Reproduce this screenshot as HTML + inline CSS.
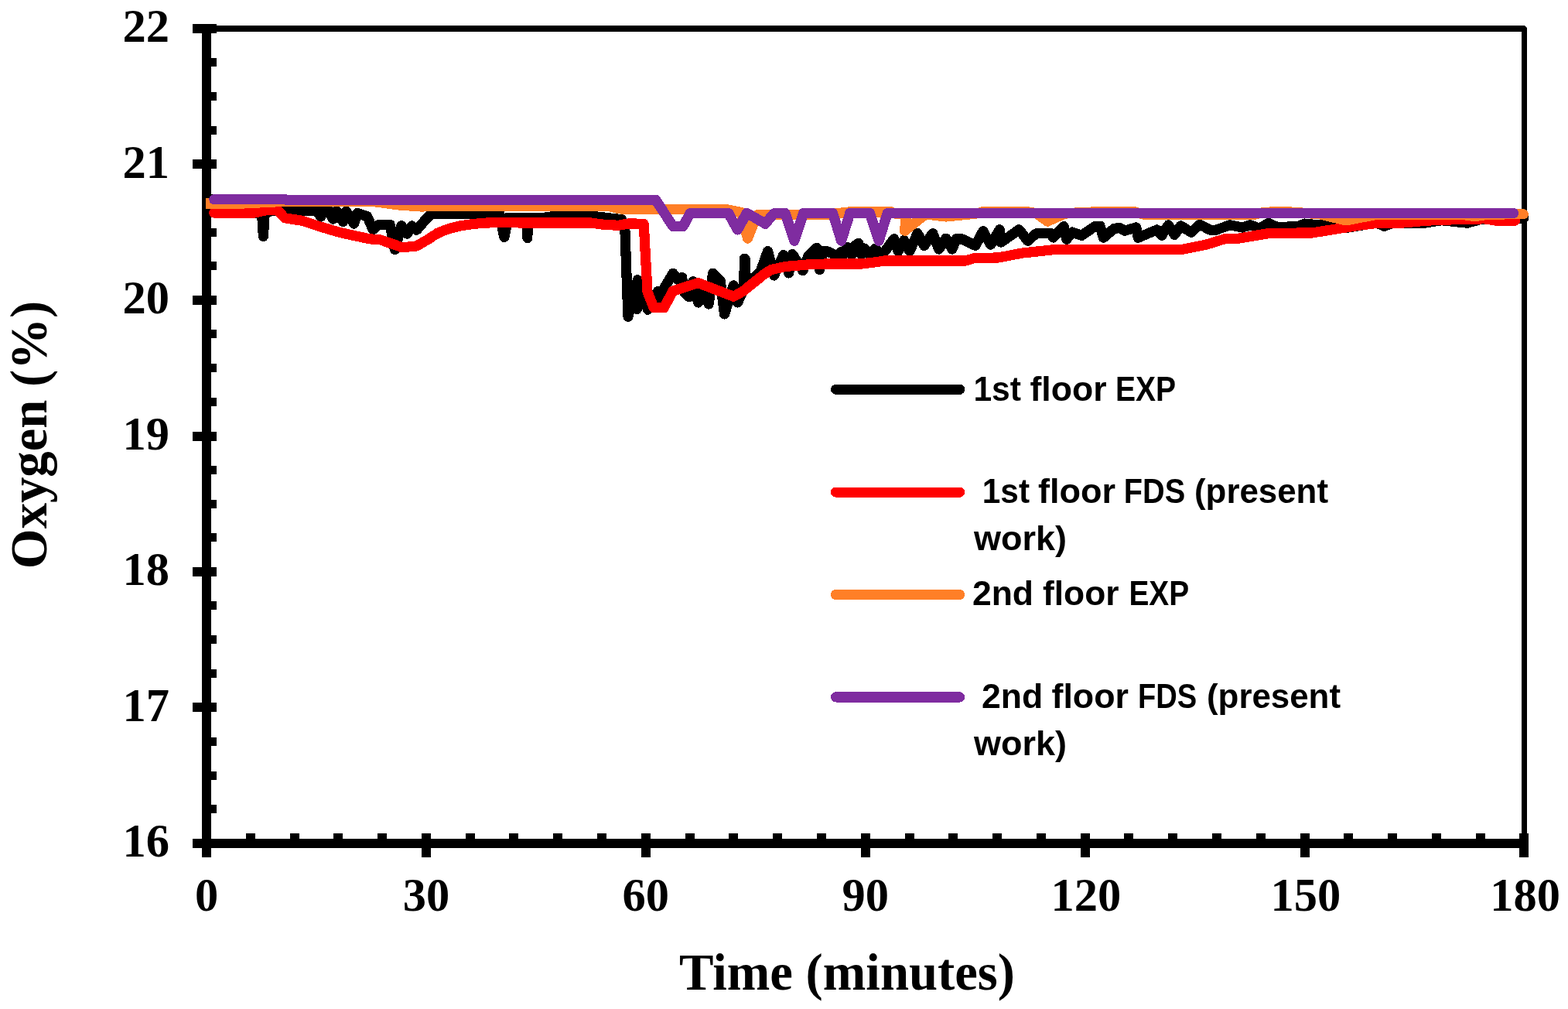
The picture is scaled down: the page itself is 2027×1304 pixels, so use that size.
<!DOCTYPE html>
<html lang="en"><head><meta charset="utf-8"><title>Oxygen vs Time</title>
<style>html,body{margin:0;padding:0;background:#fff}body{width:2027px;height:1304px;overflow:hidden}svg{display:block}.tk{font-family:"Liberation Serif",serif;font-weight:bold;font-size:60.5px;fill:#000}.tt{font-family:"Liberation Serif",serif;font-weight:bold;font-size:66.7px;fill:#000}.lg{font-family:"Liberation Sans",sans-serif;font-weight:bold;font-size:44.3px;fill:#000}.c{fill:none;stroke-width:13.2;stroke-linejoin:round;stroke-linecap:round;shape-rendering:crispEdges}</style></head><body>
<svg width="2027" height="1304" viewBox="0 0 2027 1304">
<rect x="0" y="0" width="2027" height="1304" fill="#fff"/>
<g fill="#000" shape-rendering="crispEdges">
<rect x="267" y="33" width="1707" height="8"/>
<rect x="1967" y="33" width="7" height="1060"/>
<rect x="261" y="31" width="12" height="1077"/>
<rect x="249" y="1084" width="1727" height="12"/>
<rect x="249" y="31" width="31" height="12"/>
<rect x="267" y="75" width="13" height="11"/>
<rect x="267" y="119" width="13" height="11"/>
<rect x="267" y="163" width="13" height="11"/>
<rect x="249" y="206" width="31" height="12"/>
<rect x="267" y="251" width="13" height="11"/>
<rect x="267" y="295" width="13" height="11"/>
<rect x="267" y="338" width="13" height="11"/>
<rect x="249" y="382" width="31" height="12"/>
<rect x="267" y="426" width="13" height="11"/>
<rect x="267" y="470" width="13" height="11"/>
<rect x="267" y="514" width="13" height="11"/>
<rect x="249" y="558" width="31" height="12"/>
<rect x="267" y="602" width="13" height="11"/>
<rect x="267" y="646" width="13" height="11"/>
<rect x="267" y="689" width="13" height="11"/>
<rect x="249" y="733" width="31" height="12"/>
<rect x="267" y="777" width="13" height="11"/>
<rect x="267" y="821" width="13" height="11"/>
<rect x="267" y="865" width="13" height="11"/>
<rect x="249" y="908" width="31" height="12"/>
<rect x="267" y="953" width="13" height="11"/>
<rect x="267" y="997" width="13" height="11"/>
<rect x="267" y="1040" width="13" height="11"/>
<rect x="249" y="1084" width="31" height="12"/>
<rect x="261" y="1077" width="12" height="31"/>
<rect x="318" y="1077" width="12" height="10"/>
<rect x="375" y="1077" width="12" height="10"/>
<rect x="431" y="1077" width="12" height="10"/>
<rect x="488" y="1077" width="12" height="10"/>
<rect x="545" y="1077" width="12" height="31"/>
<rect x="602" y="1077" width="12" height="10"/>
<rect x="658" y="1077" width="12" height="10"/>
<rect x="715" y="1077" width="12" height="10"/>
<rect x="772" y="1077" width="12" height="10"/>
<rect x="829" y="1077" width="12" height="31"/>
<rect x="886" y="1077" width="12" height="10"/>
<rect x="942" y="1077" width="12" height="10"/>
<rect x="999" y="1077" width="12" height="10"/>
<rect x="1056" y="1077" width="12" height="10"/>
<rect x="1113" y="1077" width="12" height="31"/>
<rect x="1170" y="1077" width="12" height="10"/>
<rect x="1226" y="1077" width="12" height="10"/>
<rect x="1283" y="1077" width="12" height="10"/>
<rect x="1340" y="1077" width="12" height="10"/>
<rect x="1397" y="1077" width="12" height="31"/>
<rect x="1453" y="1077" width="12" height="10"/>
<rect x="1510" y="1077" width="12" height="10"/>
<rect x="1567" y="1077" width="12" height="10"/>
<rect x="1624" y="1077" width="12" height="10"/>
<rect x="1681" y="1077" width="12" height="31"/>
<rect x="1737" y="1077" width="12" height="10"/>
<rect x="1794" y="1077" width="12" height="10"/>
<rect x="1851" y="1077" width="12" height="10"/>
<rect x="1908" y="1077" width="12" height="10"/>
<rect x="1964" y="1077" width="12" height="31"/>
</g>
<path d="M1974 33h-3l3 3z" fill="#fff"/>
<defs><clipPath id="cl"><rect x="266" y="0" width="1761" height="1304"/></clipPath></defs>
<path class="c" stroke="#000000" d="M276.7 271.0 L330.0 273.0 L330.0 275.0 L338.6 275.6 L340.4 305.5 L342.3 275.0 L350.2 272.8 L368.0 272.1 L409.8 272.5 L414.7 280.1 L418.1 272.1 L425.7 272.9 L430.6 283.2 L434.9 272.6 L443.5 286.5 L447.5 272.9 L457.6 289.1 L461.9 275.6 L474.8 279.6 L482.1 296.7 L489.5 290.4 L504.2 290.4 L510.4 322.5 L519.0 291.7 L526.3 302.2 L532.5 291.9 L538.6 297.3 L550.9 282.9 L557.0 276.8 L570.0 276.4 L560.0 276.8 L609.1 276.6 L638.5 275.6 L645.9 276.8 L651.8 306.5 L656.9 281.1 L670.4 281.5 L680.9 281.1 L681.8 307.5 L682.7 281.1 L701.1 281.5 L719.5 279.0 L737.9 279.0 L768.6 279.6 L800.0 283.3 L803.5 283.5 L808.0 299.1 L811.9 409.2 L824.3 361.8 L823.3 399.4 L832.2 377.3 L837.4 400.2 L850.4 376.7 L853.0 385.2 L859.5 370.8 L870.0 353.2 L876.5 361.7 L881.7 358.4 L884.3 377.3 L890.8 383.9 L896.0 363.7 L902.6 391.0 L908.4 377.3 L916.2 393.0 L921.5 353.2 L931.2 363.0 L936.5 406.0 L948.2 368.9 L953.4 391.0 L961.5 374.7 L962.5 334.3 L963.1 334.5 L964.3 362.7 L974.7 358.8 L983.3 350.4 L992.5 324.7 L1000.5 356.0 L1012.8 329.6 L1019.5 352.9 L1024.4 328.6 L1037.9 349.8 L1044.7 331.4 L1055.7 320.4 L1059.4 348.6 L1063.7 324.7 L1069.2 324.7 L1082.7 330.8 L1086.4 325.9 L1090.1 329.0 L1095.0 319.1 L1101.1 329.0 L1104.2 318.5 L1109.7 314.2 L1113.4 329.0 L1117.1 321.0 L1123.8 329.0 L1131.8 321.0 L1137.9 329.0 L1144.0 324.7 L1155.7 308.7 L1161.2 324.7 L1168.6 310.6 L1176.0 324.7 L1186.1 301.6 L1194.7 317.4 L1205.8 301.6 L1213.7 322.0 L1222.9 308.1 L1230.9 322.0 L1236.4 308.7 L1243.8 309.0 L1261.0 317.4 L1270.8 298.8 L1280.6 316.2 L1292.3 296.7 L1294.1 313.1 L1317.4 296.7 L1328.5 311.3 L1339.5 301.8 L1359.1 301.8 L1361.6 307.0 L1375.1 292.6 L1378.8 309.2 L1386.1 300.1 L1398.4 304.3 L1416.0 292.1 L1422.1 292.1 L1426.4 307.2 L1440.5 295.2 L1447.9 294.7 L1454.0 298.2 L1468.7 293.9 L1471.2 307.2 L1495.7 296.9 L1501.8 304.3 L1510.4 290.8 L1518.4 303.3 L1526.4 291.8 L1539.9 300.2 L1550.9 290.2 L1564.4 297.2 L1571.8 297.2 L1590.2 290.8 L1606.1 294.0 L1616.0 290.8 L1628.2 295.2 L1640.0 288.3 L1650.7 293.4 L1677.7 292.8 L1686.3 289.1 L1698.5 290.3 L1718.2 291.5 L1730.4 295.2 L1742.7 294.0 L1779.5 287.9 L1789.3 292.3 L1800.4 288.5 L1838.4 288.2 L1840.0 288.4 L1863.7 284.7 L1896.8 288.2 L1915.0 283.2 L1969.5 282.0"/>
<path class="c" stroke="#ff0000" d="M276.7 275.1 L328.4 275.1 L345.0 271.5 L358.2 270.7 L368.0 281.7 L391.3 285.4 L413.4 292.8 L440.4 300.7 L477.2 308.7 L492.0 310.0 L520.2 319.8 L538.6 317.9 L554.5 308.7 L560.0 304.8 L570.0 299.3 L564.8 301.6 L579.6 295.8 L594.4 292.0 L609.2 289.8 L624.0 288.3 L640.0 287.6 L652.0 287.1 L670.4 287.9 L762.5 287.9 L780.9 290.3 L800.0 291.3 L799.6 291.3 L812.6 288.9 L832.2 289.3 L837.0 377.3 L845.2 397.8 L858.2 397.8 L870.0 376.0 L902.6 365.6 L948.2 383.2 L960.0 376.8 L988.2 354.1 L996.8 348.6 L1015.2 344.5 L1045.9 341.8 L1068.0 341.0 L1113.4 341.0 L1131.8 338.8 L1144.0 336.9 L1248.7 336.9 L1259.8 333.5 L1290.4 333.0 L1321.1 327.1 L1364.0 322.5 L1527.6 322.5 L1559.5 316.1 L1584.0 308.5 L1598.8 308.5 L1640.0 301.6 L1640.9 301.3 L1696.1 301.0 L1758.7 290.9 L1779.5 288.5 L1816.3 287.9 L1840.0 285.5 L1860.0 284.3 L1919.0 282.8 L1934.7 285.2 L1958.5 285.2"/>
<path class="c" stroke="#ff7f27" clip-path="url(#cl)" d="M258.0 263.0 L314.0 263.0 L368.0 260.3 L483.0 260.5 L514.0 264.8 L545.0 267.0 L560.0 266.4 L787.0 266.4 L800.0 269.8 L812.0 270.3 L936.0 270.1 L958.0 274.5 L966.5 308.2 L978.4 278.0 L990.0 277.2 L1070.0 277.2 L1098.0 273.9 L1152.0 273.9 L1158.0 276.3 L1171.5 277.5 L1169.5 298.3 L1193.6 279.0 L1199.6 277.2 L1223.0 280.0 L1266.0 275.6 L1270.0 273.6 L1328.0 273.6 L1339.5 275.6 L1354.2 286.1 L1376.3 276.2 L1400.0 274.2 L1466.0 273.6 L1480.0 277.5 L1621.0 277.5 L1634.0 274.2 L1666.0 273.8 L1706.0 276.8 L1740.0 284.9 L1779.5 277.3 L1890.0 277.3 L1907.0 279.6 L1925.0 277.0 L1969.3 276.8"/>
<path class="c" stroke="#7f2ca0" d="M276.8 257.8 L369.0 257.8 L371.0 258.5 L847.8 258.5 L870.0 292.6 L883.0 292.6 L892.1 275.6 L941.7 275.6 L953.4 296.9 L965.1 275.6 L966.1 275.7 L989.4 289.2 L1000.5 275.7 L1015.2 275.7 L1026.9 311.2 L1038.5 275.7 L1076.6 275.7 L1087.6 311.2 L1098.7 275.7 L1124.4 275.7 L1136.1 311.2 L1147.1 275.7 L1956.5 275.6"/>
<text class="tk" x="219" y="54.2" text-anchor="end">22</text>
<text class="tk" x="219" y="229.7" text-anchor="end">21</text>
<text class="tk" x="219" y="405.2" text-anchor="end">20</text>
<text class="tk" x="219" y="580.7" text-anchor="end">19</text>
<text class="tk" x="219" y="756.2" text-anchor="end">18</text>
<text class="tk" x="219" y="931.7" text-anchor="end">17</text>
<text class="tk" x="219" y="1107.2" text-anchor="end">16</text>
<text class="tk" x="267.0" y="1177" text-anchor="middle">0</text>
<text class="tk" x="550.9" y="1177" text-anchor="middle">30</text>
<text class="tk" x="834.8" y="1177" text-anchor="middle">60</text>
<text class="tk" x="1118.8" y="1177" text-anchor="middle">90</text>
<text class="tk" x="1403.9" y="1177" text-anchor="middle">120</text>
<text class="tk" x="1687.8" y="1177" text-anchor="middle">150</text>
<text class="tk" x="1971.7" y="1177" text-anchor="middle">180</text>
<text class="tt" x="1095" y="1278.8" text-anchor="middle">Time (minutes)</text>
<text class="tt" transform="translate(59.5 562) rotate(-90)" text-anchor="middle">Oxygen (%)</text>
<path class="c" stroke="#000000" d="M1080.6 503.3 L1240.6 503.3"/>
<text class="lg" y="517.7"><tspan x="1258.4" textLength="61.6" lengthAdjust="spacingAndGlyphs">1st</tspan> <tspan x="1331.5" textLength="99.0" lengthAdjust="spacingAndGlyphs">floor</tspan> <tspan x="1441.9" textLength="78.2" lengthAdjust="spacingAndGlyphs">EXP</tspan></text>
<path class="c" stroke="#ff0000" d="M1080.6 636.1 L1240.6 636.1"/>
<text class="lg" y="650.1"><tspan x="1269.8" textLength="61.2" lengthAdjust="spacingAndGlyphs">1st</tspan> <tspan x="1342.0" textLength="100.1" lengthAdjust="spacingAndGlyphs">floor</tspan> <tspan x="1452.8" textLength="79.4" lengthAdjust="spacingAndGlyphs">FDS</tspan> <tspan x="1544.0" textLength="173.0" lengthAdjust="spacingAndGlyphs">(present</tspan></text>
<text class="lg" y="711.0"><tspan x="1259.0" textLength="120.0" lengthAdjust="spacingAndGlyphs">work)</tspan></text>
<path class="c" stroke="#ff7f27" d="M1080.6 768.5 L1240.6 768.5"/>
<text class="lg" y="782.4"><tspan x="1256.9" textLength="79.2" lengthAdjust="spacingAndGlyphs">2nd</tspan> <tspan x="1348.0" textLength="98.5" lengthAdjust="spacingAndGlyphs">floor</tspan> <tspan x="1459.4" textLength="77.7" lengthAdjust="spacingAndGlyphs">EXP</tspan></text>
<path class="c" stroke="#7f2ca0" d="M1080.6 900.9 L1240.6 900.9"/>
<text class="lg" y="915.1"><tspan x="1268.9" textLength="79.3" lengthAdjust="spacingAndGlyphs">2nd</tspan> <tspan x="1359.5" textLength="99.5" lengthAdjust="spacingAndGlyphs">floor</tspan> <tspan x="1470.9" textLength="76.2" lengthAdjust="spacingAndGlyphs">FDS</tspan> <tspan x="1560.0" textLength="173.0" lengthAdjust="spacingAndGlyphs">(present</tspan></text>
<text class="lg" y="976.0"><tspan x="1259.0" textLength="120.0" lengthAdjust="spacingAndGlyphs">work)</tspan></text>
</svg></body></html>
